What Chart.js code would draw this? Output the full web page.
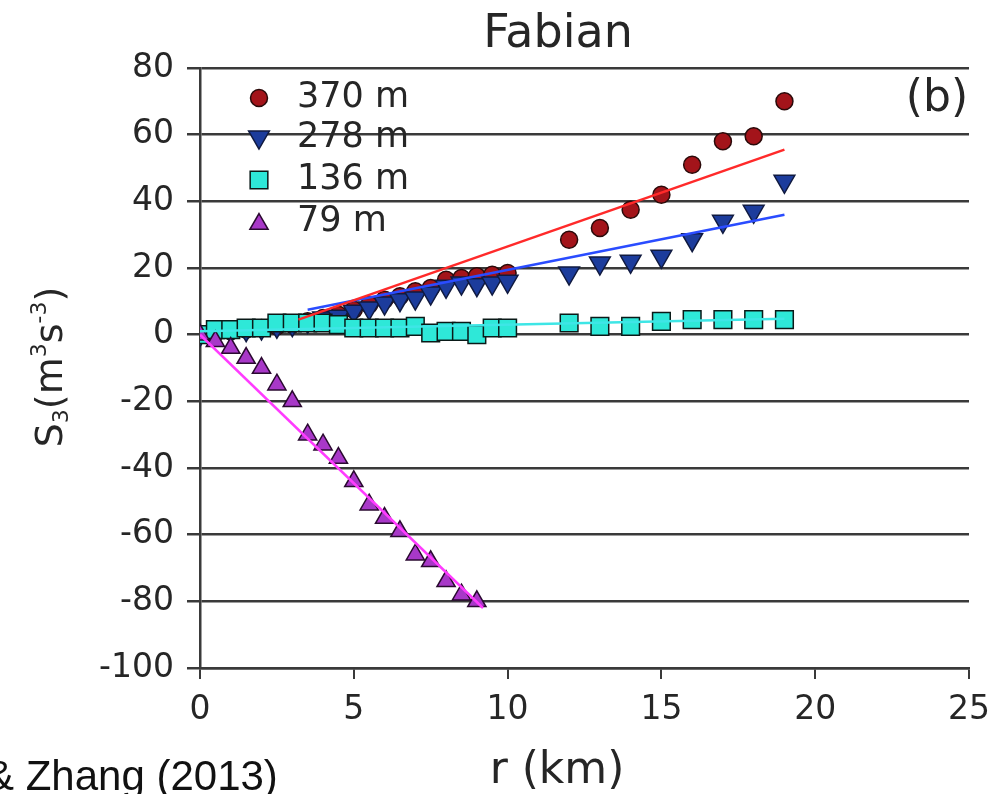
<!DOCTYPE html>
<html>
<head>
<meta charset="utf-8">
<script src="https://cdn.jsdelivr.net/npm/chart.js@4.4.1/dist/chart.umd.min.js"></script>
<style>
  html, body { margin: 0; padding: 0; background: #fff; overflow: hidden; }
</style>
</head>
<body>
<canvas id="chart" width="1002" height="794"></canvas>
<script>
// r (km) and S3 values
const r370 = [0,0.5,1,1.5,2,2.5,3,3.5,4,4.5,5,5.5,6,6.5,7,7.5,8,8.5,9,9.5,10,12,13,14,15,16,17,18,19];
const s370 = [0,0.5,1,1.5,2,2.5,3,4,5,6,7.5,9,10.5,11.5,13,14,16.5,17,17.5,18,18.5,28.5,32,37.5,42,51,58,59.5,70];
const r278 = [0,0.5,1,1.5,2,2.5,3,3.5,4,4.5,5,5.5,6,6.5,7,7.5,8,8.5,9,9.5,10,12,13,14,15,16,17,18,19];
const s278 = [0,0.5,1,1.5,2,2.5,3,4,5,5.5,7,8,9.5,10.5,11,12.5,14.5,15.5,15,15.5,16,18.5,21.5,22,23.5,28.5,34,37,46];
const r136 = [0,0.5,1,1.5,2,2.5,3,3.5,4,4.5,5,5.5,6,6.5,7,7.5,8,8.5,9,9.5,10,12,13,14,15,16,17,18,19];
const s136 = [0,1.5,1.5,2,2,3.5,3.5,3.5,3.5,3,2,2,2,2,2.5,0.5,1,1,0,2,2,3.5,2.5,2.5,4,4.5,4.5,4.5,4.5];
const r79 = [0,0.5,1,1.5,2,2.5,3,3.5,4,4.5,5,5.5,6,6.5,7,7.5,8,8.5,9];
const s79 = [0,-2,-4,-7,-10,-15,-20,-30,-33,-37,-44,-51,-55,-59,-66,-68,-74,-78,-80];

// linear fits (end points)
const fitR370 = [3.2, 19];   const fitS370 = [4.5, 55.5];
const fitR278 = [3.5, 19];   const fitS278 = [7.5, 36];
const fitR136 = [0, 19];     const fitS136 = [1, 4.8];
const fitR79  = [0, 9.2];    const fitS79  = [0, -82];

const xTicks = [0, 5, 10, 15, 20, 25];
const yTicks = [-100, -80, -60, -40, -20, 0, 20, 40, 60, 80];

const pts = (xs, ys) => xs.map((x, i) => ({x: x, y: ys[i]}));

const markerSets = [
  {label: '370 m', style: 'circle',   rot: 0,   r: 8.5,  fill: '#a3141a', edge: '#2a0a0a', xs: r370, ys: s370, order: 9},
  {label: '278 m', style: 'triangle', rot: 180, r: 12,   fill: '#1c3c9c', edge: '#101a40', xs: r278, ys: s278, order: 8},
  {label: '136 m', style: 'rect',     rot: 0,   r: 12.5, fill: '#2ee8d8', edge: '#0a1a18', xs: r136, ys: s136, order: 7},
  {label: '79 m',  style: 'triangle', rot: 0,   r: 10.5, fill: '#a838c8', edge: '#2a0a30', xs: r79,  ys: s79,  order: 6}
];
const fitSets = [
  {xs: fitR370, ys: fitS370, color: '#ff2a2a'},
  {xs: fitR278, ys: fitS278, color: '#2a4cff'},
  {xs: fitR136, ys: fitS136, color: '#3ee6e6'},
  {xs: fitR79,  ys: fitS79,  color: '#ff3cff'}
];

const datasets = [];
markerSets.forEach(m => datasets.push({
  type: 'scatter', label: m.label, data: pts(m.xs, m.ys),
  pointStyle: m.style, rotation: m.rot, pointRadius: m.r, pointHoverRadius: m.r,
  backgroundColor: m.fill, borderColor: m.edge, borderWidth: 1.5, order: m.order
}));
fitSets.forEach((f, i) => datasets.push({
  type: 'line', data: pts(f.xs, f.ys), borderColor: f.color, borderWidth: 2.5,
  pointRadius: 0, fill: false, order: 1 + i
}));

const txt = '#262626';
const font = 'DejaVu Sans';

function drawMarker(ctx, m, x, y) {
  ctx.save();
  ctx.fillStyle = m.fill; ctx.strokeStyle = m.edge; ctx.lineWidth = 1.5;
  ctx.beginPath();
  if (m.style === 'circle') {
    ctx.arc(x, y, m.r, 0, Math.PI * 2);
  } else if (m.style === 'rect') {
    const h = m.r * Math.SQRT1_2;
    ctx.rect(x - h, y - h, 2 * h, 2 * h);
  } else {
    let a = m.rot * Math.PI / 180;
    for (let k = 0; k < 3; k++) {
      const px = x + Math.sin(a) * m.r, py = y - Math.cos(a) * m.r;
      k === 0 ? ctx.moveTo(px, py) : ctx.lineTo(px, py);
      a += 2 * Math.PI / 3;
    }
    ctx.closePath();
  }
  ctx.fill(); ctx.stroke();
  ctx.restore();
}

const decorations = {
  id: 'decorations',
  afterDraw(chart) {
    const ctx = chart.ctx;
    ctx.save();
    ctx.fillStyle = txt;
    ctx.textBaseline = 'middle';

    // title
    ctx.font = '46px "' + font + '"';
    ctx.textAlign = 'center';
    ctx.fillText('Fabian', 558, 35);

    // panel tag
    ctx.font = '44px "' + font + '"';
    ctx.fillText('(b)', 937, 100);

    // x title
    ctx.font = '44px "' + font + '"';
    ctx.fillText('r (km)', 557, 772);

    // legend
    ctx.font = '35px "' + font + '"';
    ctx.textAlign = 'left';
    const rows = [98, 138, 180, 222];
    markerSets.forEach((m, i) => {
      drawMarker(ctx, m, 259, rows[i] + (m.style === 'triangle' ? (m.rot ? -1 : 2) : 0));
      ctx.fillStyle = txt;
      ctx.fillText(m.label, 297, rows[i]);
    });

    // y title: S_3(m^3 s^-3)
    ctx.save();
    ctx.translate(52, 367);
    ctx.rotate(-Math.PI / 2);
    const big = '38px "' + font + '"', small = '22px "' + font + '"';
    const parts = [
      ['S', big, 0], ['3', small, 10], ['(m', big, 0], ['3', small, -12],
      ['s', big, 0], ['-3', small, -12], [')', big, 0]
    ];
    let total = 0;
    parts.forEach(p => { ctx.font = p[1]; total += ctx.measureText(p[0]).width; });
    let cx = -total / 2;
    ctx.textAlign = 'left';
    parts.forEach(p => {
      ctx.font = p[1];
      ctx.fillText(p[0], cx, p[2]);
      cx += ctx.measureText(p[0]).width;
    });
    ctx.restore();

    // source line, cut at the left and bottom edge
    ctx.font = '42px "Liberation Sans"';
    ctx.textBaseline = 'alphabetic';
    ctx.fillStyle = '#111';
    ctx.fillText('& Zhang (2013)', -14, 790);
    ctx.restore();
  }
};

new Chart(document.getElementById('chart').getContext('2d'), {
  data: {datasets: datasets},
  options: {
    responsive: false,
    animation: false,
    layout: {padding: {top: 68, right: 32, left: 0, bottom: 0}},
    plugins: {legend: {display: false}, tooltip: {enabled: false}},
    scales: {
      x: {
        type: 'linear', min: 0, max: 25,
        afterFit: s => { s.height = 126; },
        afterBuildTicks: s => { s.ticks = xTicks.map(v => ({value: v})); },
        grid: {drawOnChartArea: false, color: '#3a3a3a', lineWidth: 2, tickLength: 11},
        border: {color: '#3a3a3a', width: 2.5},
        ticks: {color: txt, font: {family: font, size: 33}, padding: 12, maxRotation: 0}
      },
      y: {
        type: 'linear', min: -100, max: 80,
        afterFit: s => { s.width = 200; },
        afterBuildTicks: s => { s.ticks = yTicks.map(v => ({value: v})); },
        grid: {color: '#3a3a3a', lineWidth: 2.5, tickLength: 13},
        border: {color: '#3a3a3a', width: 2.5},
        ticks: {color: txt, font: {family: font, size: 33}, padding: 13}
      }
    }
  },
  plugins: [decorations]
});
</script>
</body>
</html>
